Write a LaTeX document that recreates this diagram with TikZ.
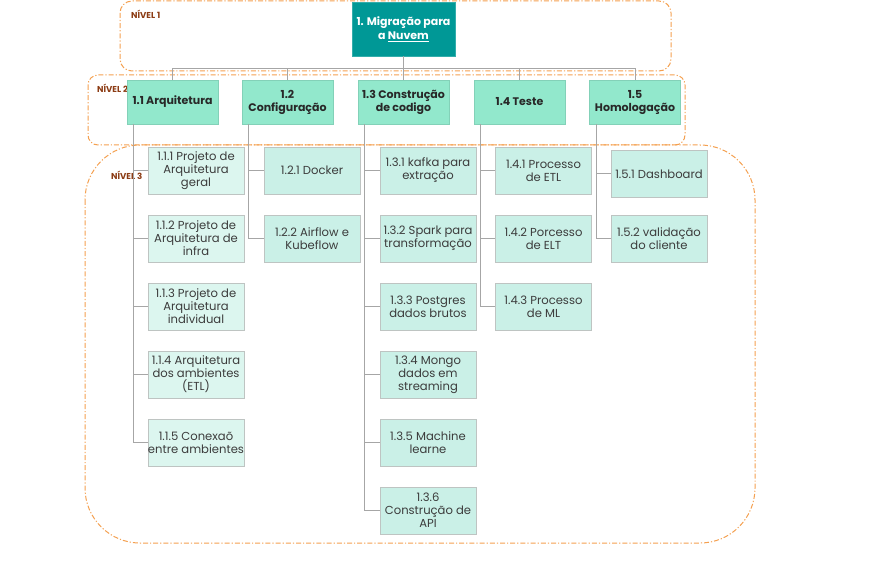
\documentclass[tikz,border=0pt]{standalone}
\usepackage{fontspec}
\setmainfont{Poppins}
\usetikzlibrary{positioning}
\definecolor{rootc}{RGB}{0,152,150}
\definecolor{lvtwo}{RGB}{146,232,204}
\definecolor{lvthreeA}{RGB}{220,246,239}
\definecolor{lvthree}{RGB}{202,240,231}
\definecolor{boxline}{RGB}{190,196,194}
\definecolor{conn}{RGB}{166,166,166}
\definecolor{dashc}{RGB}{244,160,80}
\definecolor{lblc}{RGB}{140,60,20}
\definecolor{txt}{RGB}{40,40,40}
\definecolor{txtthree}{RGB}{60,60,60}
\tikzset{
  rootbox/.style={fill=rootc, draw=rootc!80!white, minimum width=103pt, minimum height=54pt, align=center, text=white, font=\fontsize{11}{14}\selectfont\bfseries, inner sep=1pt},
  twobox/.style={fill=lvtwo, draw=lvtwo!90!black, minimum width=91pt, minimum height=44pt, align=center, text=txt, font=\fontsize{11}{13}\selectfont\bfseries, inner sep=0pt},
  threebox/.style={fill=lvthree, draw=boxline, minimum width=96pt, minimum height=47pt, align=center, text=txtthree, font=\fontsize{11.6}{13}\selectfont, inner sep=0pt},
  threeboxA/.style={threebox, fill=lvthreeA},
  conline/.style={draw=conn, line width=1pt},
  lvframe/.style={draw=dashc, dash pattern=on 5pt off 2pt on 1.2pt off 2pt, line width=1pt},
  lvlabel/.style={text=lblc, font=\fontsize{8.6}{10}\selectfont\bfseries, anchor=west, inner sep=0pt}
}
\begin{document}
\begin{tikzpicture}[x=1pt,y=-1pt]
\useasboundingbox (0,0) rectangle (893,585);
% level frames
\draw[lvframe, rounded corners=12pt] (120,1) rectangle (671,71);
\draw[lvframe, rounded corners=10pt] (88,75) rectangle (685,145);
\draw[lvframe, rounded corners=55pt] (85,145) rectangle (755,543);
\node[lvlabel] (n1) at (131,14) {NÍVEL 1};
\node[lvlabel] (n2) at (97,88) {NÍVEL 2};
\node[lvlabel] (n3) at (111,175) {NÍVEL 3};
% root
\node[rootbox] (root) at (403.5,29) {1. Migração para\\a \underline{Nuvem}};
% level 2
\node[twobox] (a1) at (172.5,102) {1.1 Arquitetura};
\node[twobox] (a2) at (287.5,102) {1.2\\Configuração};
\node[twobox] (a3) at (403.5,102) {1.3 Construção\\de codigo};
\node[twobox] (a4) at (519.5,102) {1.4 Teste};
\node[twobox] (a5) at (635,102) {1.5\\Homologação};
% level 3
\node[threeboxA] (b11) at (196,170.5) {1.1.1 Projeto de\\Arquitetura\\geral};
\node[threeboxA] (b12) at (196,238.5) {1.1.2 Projeto de\\Arquitetura de\\infra};
\node[threeboxA] (b13) at (196,306.5) {1.1.3 Projeto de\\Arquitetura\\individual};
\node[threeboxA] (b14) at (196,374.5) {1.1.4 Arquitetura\\dos ambientes\\(ETL)};
\node[threeboxA] (b15) at (196,442.5) {1.1.5 Conexaõ\\entre ambientes};
\node[threebox] (b21) at (312,170.5) {1.2.1 Docker};
\node[threebox] (b22) at (312,238.5) {1.2.2 Airflow e\\Kubeflow};
\node[threebox] (b31) at (428,170.5) {1.3.1 kafka para\\extração};
\node[threebox] (b32) at (428,238.5) {1.3.2 Spark para\\transformação};
\node[threebox] (b33) at (428,306.5) {1.3.3 Postgres\\dados brutos};
\node[threebox] (b34) at (428,374.5) {1.3.4 Mongo\\dados em\\streaming};
\node[threebox] (b35) at (428,442.5) {1.3.5 Machine\\learne};
\node[threebox] (b36) at (428,510.5) {1.3.6\\Construção de\\API};
\node[threebox] (b41) at (543.5,170.5) {1.4.1 Processo\\de ETL};
\node[threebox] (b42) at (543.5,238.5) {1.4.2 Porcesso\\de ELT};
\node[threebox] (b43) at (543.5,306.5) {1.4.3 Processo\\de ML};
\node[threebox] (b51) at (659,174) {1.5.1 Dashboard};
\node[threebox] (b52) at (659,238.5) {1.5.2 validação\\do cliente};
% connectors root -> level 2
\foreach \k in {1,...,5}{
  \draw[conline] (root.south) -- ++(0,12) -| (a\k.north);
}
% connectors level 2 -> level 3
\foreach \k in {1,...,5}{\draw[conline] ([xshift=7pt]a1.south west) |- (b1\k.west);}
\foreach \k in {1,2}{\draw[conline] ([xshift=7pt]a2.south west) |- (b2\k.west);}
\foreach \k in {1,...,6}{\draw[conline] ([xshift=7pt]a3.south west) |- (b3\k.west);}
\foreach \k in {1,2,3}{\draw[conline] ([xshift=7pt]a4.south west) |- (b4\k.west);}
\foreach \k in {1,2}{\draw[conline] ([xshift=7pt]a5.south west) |- (b5\k.west);}
\end{tikzpicture}
\end{document}
